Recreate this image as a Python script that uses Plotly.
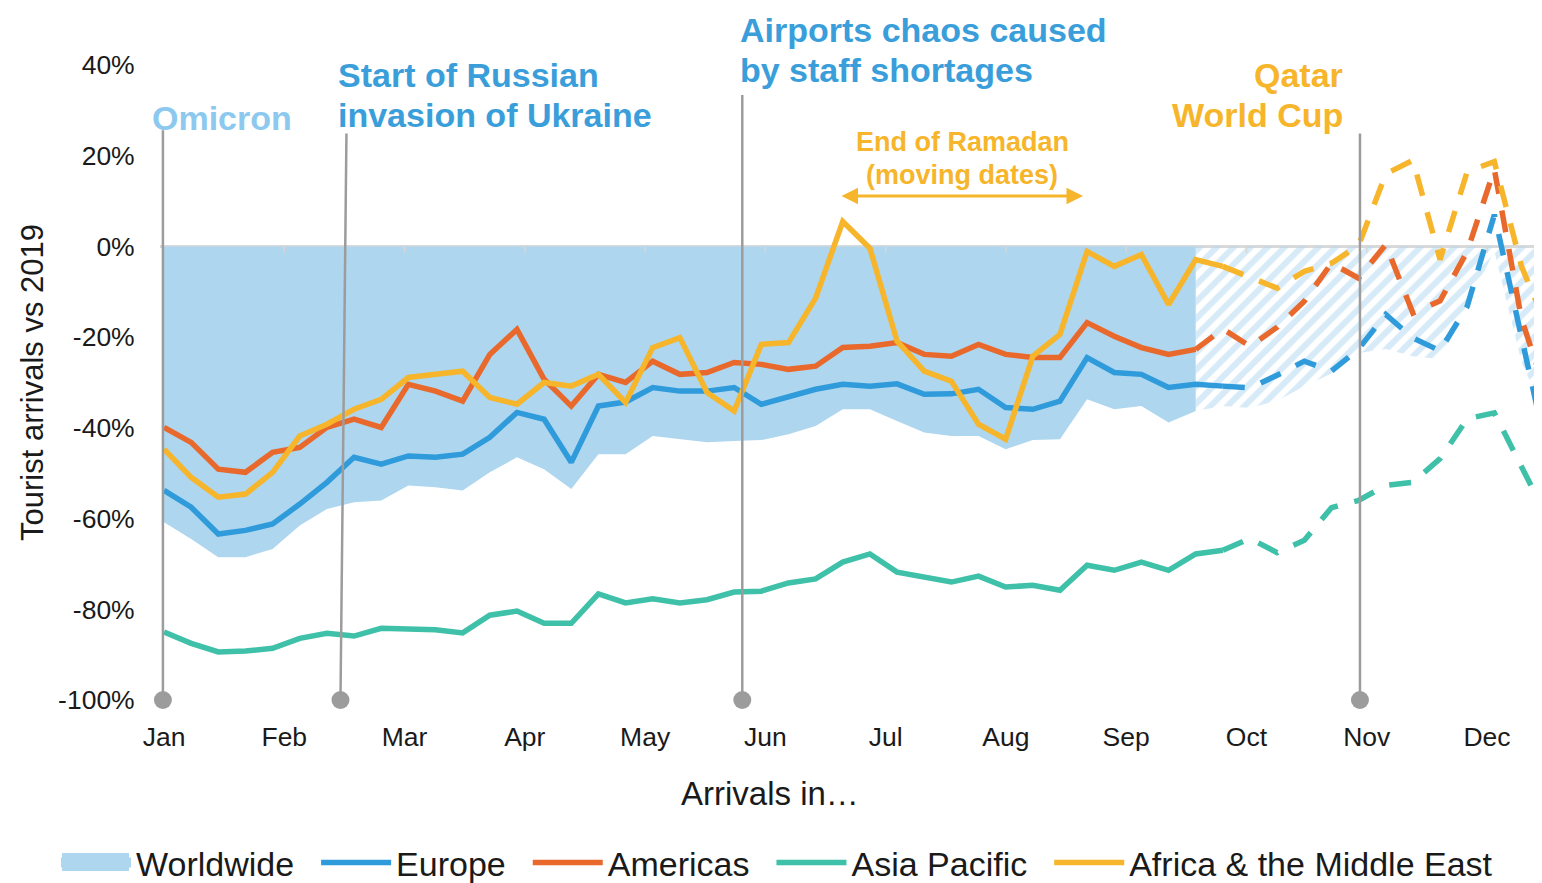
import plotly.graph_objects as go

# ---------------- data (weekly index, 0 = first week of January) ----------------
MONTHS = ["Jan", "Feb", "Mar", "Apr", "May", "Jun", "Jul", "Aug", "Sep", "Oct", "Nov", "Dec"]
Y_TICKS = [-100, -80, -60, -40, -20, 0, 20, 40]
Y_TICK_TEXT = ["-100%", "-80%", "-60%", "-40%", "-20%", "0%", "20%", "40%"]

WEEKS = list(range(52))
LAST_ACTUAL = 39          # last observed week (solid lines)
LAST_ACTUAL_FILL = 38     # worldwide band switches to hatched forecast here
LAST_ACTUAL_AMERICAS = 38

worldwide = [-60.8, -64.5, -68.5, -68.5, -66.7, -61.5, -57.9, -56.4, -56.0, -52.7,
             -53.1, -53.8, -49.8, -46.5, -49.1, -53.5, -45.8, -45.8, -41.8, -42.5,
             -43.2, -42.9, -42.7, -41.4, -39.6, -35.9, -35.9, -38.5, -41.0, -41.8,
             -41.8, -44.7, -42.7, -42.5, -33.7, -35.9, -35.2, -38.8, -36.3, -35.2,
             -35.6, -34.0, -30.8, -28.0, -23.5, -22.6, -24.2, -24.8, -13.0, -1.0,
             -25.5, -39.0]

europe = [-53.8, -57.5, -63.4, -62.6, -61.2, -56.8, -52.0, -46.5, -48.0, -46.2,
          -46.5, -45.8, -42.1, -36.6, -38.1, -47.6, -35.2, -34.3, -31.1, -31.9,
          -31.9, -31.1, -34.8, -33.3, -31.5, -30.4, -30.8, -30.3, -32.6, -32.5,
          -31.5, -35.5, -35.9, -34.1, -24.5, -27.8, -28.2, -31.1, -30.4, -30.8,
          -31.2, -28.4, -25.3, -27.5, -22.6, -15.0, -20.2, -23.0, -13.2, 7.0,
          -19.5, -47.0]

americas = [-39.9, -43.2, -49.1, -49.8, -45.4, -44.3, -39.9, -38.1, -39.9, -30.4,
            -31.9, -34.1, -23.8, -18.3, -29.3, -35.2, -28.2, -30.0, -25.3, -28.2,
            -27.8, -25.6, -26.0, -27.1, -26.4, -22.3, -22.0, -21.2, -23.8, -24.2,
            -21.6, -23.8, -24.5, -24.5, -16.8, -19.8, -22.3, -23.8, -22.7, -18.2,
            -22.0, -17.8, -12.1, -3.7, -7.0, 0.4, -14.7, -12.0, -1.1, 17.0,
            -16.0, -34.0]

asia_pacific = [-85.0, -87.5, -89.4, -89.2, -88.6, -86.4, -85.3, -85.9, -84.2, -84.5,
                -84.5, -85.2, -81.3, -80.4, -83.1, -83.1, -76.6, -78.6, -77.7, -78.6,
                -77.9, -76.2, -76.0, -74.2, -73.3, -69.6, -67.8, -71.8, -72.9, -74.0,
                -72.7, -75.1, -74.7, -75.8, -70.3, -71.4, -69.6, -71.4, -67.8, -67.0,
                -64.4, -67.5, -64.8, -57.6, -56.0, -52.7, -52.0, -46.8, -38.0, -36.7,
                -48.4, -60.4]

africa_me = [-44.7, -50.9, -55.3, -54.6, -49.8, -41.8, -39.2, -35.9, -33.7, -28.9,
             -28.2, -27.5, -33.3, -34.8, -30.0, -30.8, -28.2, -34.4, -22.3, -20.1,
             -32.2, -36.3, -21.6, -21.2, -11.4, 5.5, -0.4, -20.9, -27.5, -29.7,
             -39.2, -42.5, -24.2, -19.4, -1.1, -4.4, -1.8, -12.8, -2.9, -4.4,
             -6.8, -9.2, -5.5, -3.7, 0.2, 16.0, 19.0, -2.9, 16.5, 18.7,
             -4.4, -18.7]

# events: week position at bottom, week position at top, top value (%)
EVENT_WEEK_BOTTOM = [-0.04, 6.5, 21.3, 44.05]
EVENT_WEEK_TOP = [-0.04, 6.72, 21.3, 44.05]
EVENT_TOP = [25.6, 24.9, 33.4, 24.9]

# ---------------- styling ----------------
FONT = "Liberation Sans, Arial, sans-serif"
C_WW = "#AED6EF"
C_EU = "#2F9BDB"
C_AM = "#E8692B"
C_AP = "#3FC0A8"
C_AF = "#F6B52A"
C_EVENT = "#9C9C9C"
C_TXT_BLUE = "#3A9EDB"
C_TXT_LIGHT = "#8DC9EE"

OFF = 8                      # page body margin of the html output
W, H = 1542 - OFF, 883
L, T = 160 - OFF, 65 - OFF
PW, PH = W - L, 635
B = H - T - PH
PX_PER_WEEK = 27.15
X0 = (160 - 164) / PX_PER_WEEK
X1 = X0 + PW / PX_PER_WEEK
MONTH_STEP = 4.43
month_pos = [k * MONTH_STEP for k in range(len(MONTHS))]


def px(xp):
    return (xp - OFF - L) / PW


def py(yp):
    return (T + PH - (yp - OFF)) / PH


LINE_W = 5.5
DASH = "22px,17px"
GAP = "\u2002"

fig = go.Figure()

# Worldwide band (actual + hatched forecast)
fig.add_trace(go.Scatter(
    x=WEEKS[:LAST_ACTUAL_FILL + 1], y=worldwide[:LAST_ACTUAL_FILL + 1],
    mode="lines", line=dict(width=0, color=C_WW), fill="tozeroy", fillcolor=C_WW,
    showlegend=False, hoverinfo="skip"))
fig.add_trace(go.Scatter(
    x=WEEKS[LAST_ACTUAL_FILL:], y=worldwide[LAST_ACTUAL_FILL:],
    mode="lines", line=dict(width=0, color=C_WW), fill="tozeroy",
    fillpattern=dict(shape="/", fgcolor=C_WW, bgcolor="rgba(255,255,255,0)",
                     size=12, solidity=0.5),
    showlegend=False, hoverinfo="skip"))
# legend entry for the worldwide band
fig.add_trace(go.Scatter(
    x=[None], y=[None], mode="lines", line=dict(color=C_WW, width=10),
    name="Worldwide" + GAP, legendrank=1))


def add_series(vals, color, name, rank, last):
    fig.add_trace(go.Scatter(
        x=WEEKS[:last + 1], y=vals[:last + 1], mode="lines",
        line=dict(color=color, width=LINE_W), name=name, legendrank=rank))
    fig.add_trace(go.Scatter(
        x=WEEKS[last:], y=vals[last:], mode="lines",
        line=dict(color=color, width=LINE_W, dash=DASH), showlegend=False))


add_series(asia_pacific, C_AP, "Asia Pacific" + GAP, 4, LAST_ACTUAL)
add_series(europe, C_EU, "Europe" + GAP, 2, LAST_ACTUAL)
add_series(americas, C_AM, "Americas" + GAP, 3, LAST_ACTUAL_AMERICAS)
add_series(africa_me, C_AF, "Africa &amp; the Middle East", 5, LAST_ACTUAL)

# event dots
fig.add_trace(go.Scatter(
    x=EVENT_WEEK_BOTTOM, y=[Y_TICKS[0]] * len(EVENT_WEEK_BOTTOM), mode="markers",
    marker=dict(size=18, color=C_EVENT), cliponaxis=False, showlegend=False,
    hoverinfo="skip"))

shapes = []
for xb, xt, top in zip(EVENT_WEEK_BOTTOM, EVENT_WEEK_TOP, EVENT_TOP):
    shapes.append(dict(type="line", xref="x", yref="y", x0=xb, x1=xt,
                       y0=Y_TICKS[0], y1=top, line=dict(color=C_EVENT, width=2.5),
                       layer="above"))
for m in month_pos[1:]:
    shapes.append(dict(type="line", xref="x", yref="y", x0=m, x1=m, y0=0, y1=-1.4,
                       line=dict(color="#D6D6D6", width=1.5), layer="above"))
# taller swatch behind the "Worldwide" legend entry (area symbol)
shapes.append(dict(type="rect", xref="paper", yref="paper", x0=px(62), x1=px(129),
                   y0=py(871), y1=py(853), fillcolor=C_WW, line=dict(width=0),
                   layer="above"))

ann = []


def text(t, xp, yp, color, size, xanchor="left", bold=True):
    ann.append(dict(text=f"<b>{t}</b>" if bold else t, x=px(xp), y=py(yp),
                    xref="paper", yref="paper", xanchor=xanchor, yanchor="middle",
                    showarrow=False, font=dict(family=FONT, size=size, color=color)))


text("Omicron", 150, 118, C_TXT_LIGHT, 34)
text("Start of Russian", 336, 75, C_TXT_BLUE, 34)
text("invasion of Ukraine", 336, 115, C_TXT_BLUE, 34)
text("Airports chaos caused", 738, 30, C_TXT_BLUE, 34)
text("by staff shortages", 738, 70, C_TXT_BLUE, 34)
text("Qatar", 1345, 75, C_AF, 34, xanchor="right")
text("World Cup", 1345, 115, C_AF, 34, xanchor="right")
text("End of Ramadan", 962, 142, C_AF, 27, xanchor="center")
text("(moving dates)", 962, 175, C_AF, 27, xanchor="center")
text("Arrivals in…", 770, 793, "#1a1a1a", 33, xanchor="center", bold=False)

ann.append(dict(text="Tourist arrivals vs 2019", x=px(32), y=py(383), xref="paper",
                yref="paper", xanchor="center", yanchor="middle", textangle=-90,
                showarrow=False, font=dict(family=FONT, size=31, color="#1a1a1a")))

# double-headed Ramadan arrow
ann.append(dict(x=px(1083), y=py(196), ax=840 - 1083, ay=0, xref="paper",
                yref="paper", axref="pixel", ayref="pixel", text="", showarrow=True,
                arrowhead=2, arrowside="end+start", arrowsize=1.1, arrowwidth=3,
                arrowcolor=C_AF))

fig.update_layout(
    width=W, height=H, margin=dict(l=L, r=0, t=T, b=B, autoexpand=False),
    paper_bgcolor="white", plot_bgcolor="white",
    font=dict(family=FONT, color="#1a1a1a"),
    showlegend=True,
    legend=dict(orientation="h", x=px(56), xanchor="left", y=py(863), yanchor="middle",
                font=dict(family=FONT, size=34, color="#1a1a1a"), itemwidth=70,
                bgcolor="rgba(0,0,0,0)"),
    xaxis=dict(range=[X0, X1], tickmode="array", tickvals=month_pos, ticktext=MONTHS,
               showgrid=False, zeroline=False, showline=False, ticks="outside",
               ticklen=13, tickcolor="rgba(0,0,0,0)",
               tickfont=dict(family=FONT, size=26.5, color="#1a1a1a")),
    yaxis=dict(range=[-100, 40], tickmode="array", tickvals=Y_TICKS, ticktext=Y_TICK_TEXT,
               showgrid=False, zeroline=True, zerolinecolor="#D9D9D9", zerolinewidth=3,
               showline=False, ticks="outside", ticklen=19, tickcolor="rgba(0,0,0,0)",
               tickfont=dict(family=FONT, size=26.5, color="#1a1a1a")),
    shapes=shapes, annotations=ann,
)

fig.write_html("out.html")
